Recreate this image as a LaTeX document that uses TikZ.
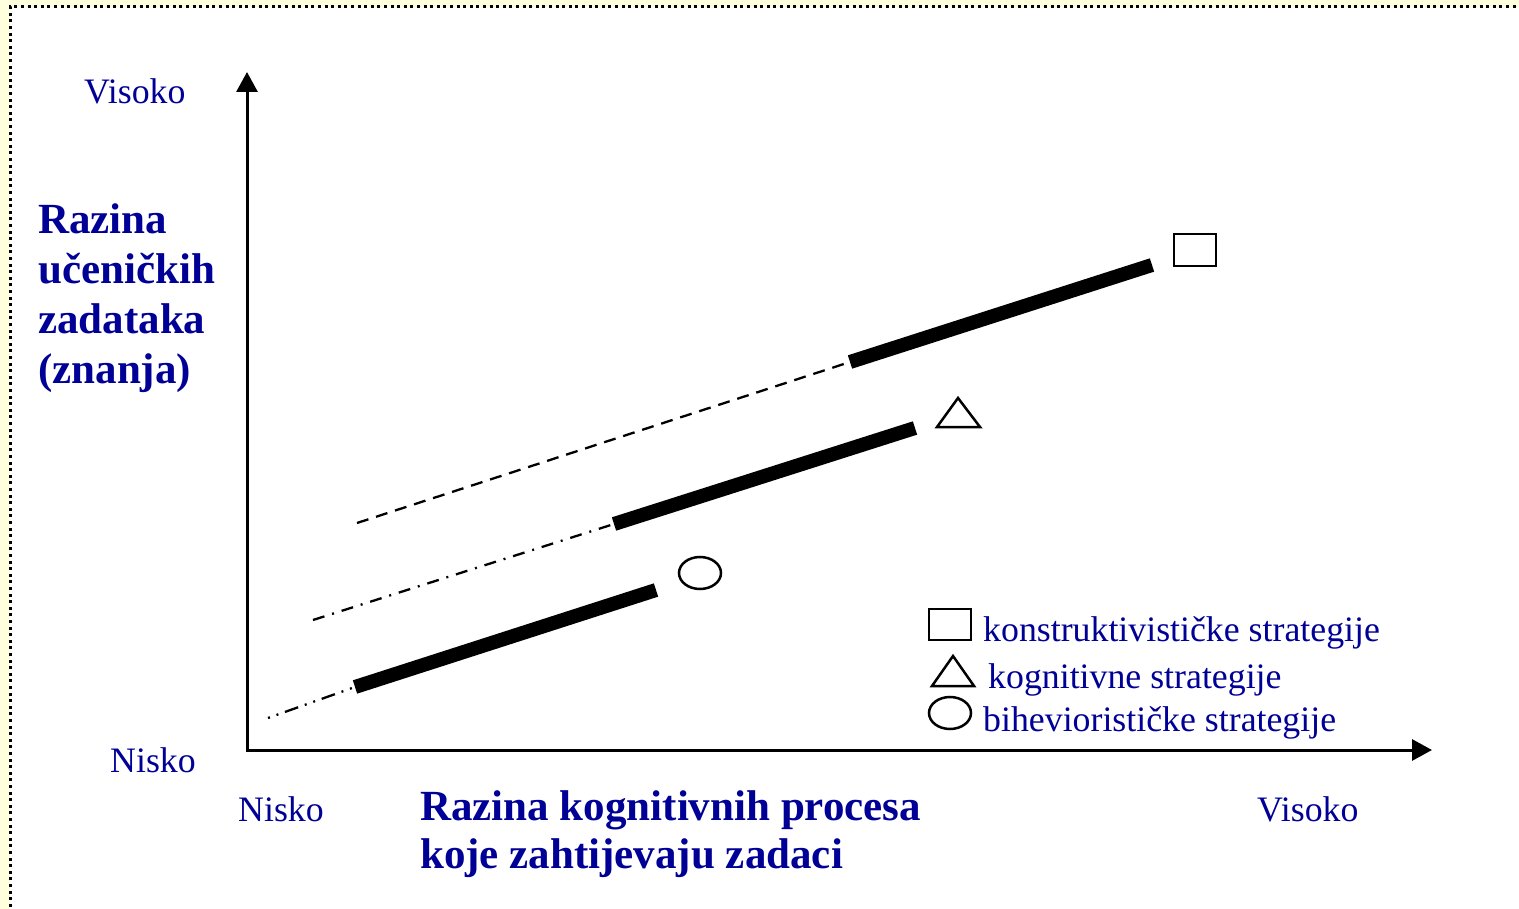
\documentclass[tikz,border=0pt]{standalone}
\usepackage{fontspec}
\setmainfont{Liberation Serif}
\usetikzlibrary{arrows.meta}
\definecolor{txtblue}{RGB}{0,0,150}
\definecolor{bgyellow}{RGB}{255,255,222}
\tikzset{
  lbl/.style={anchor=base west, inner sep=0pt, text=txtblue, font=\fontsize{35.8}{40}\selectfont},
  title/.style={anchor=base west, inner sep=0pt, text=txtblue, font=\fontsize{43}{49}\selectfont\bfseries},
  axis/.style={line width=3pt, {Triangle[length=20pt,width=21pt]}-{Triangle[length=20pt,width=21pt]}},
  thickseg/.style={line width=14pt, line cap=butt},
  thinseg/.style={line width=2.3pt},
  marker/.style={line width=2.5pt},
}
\begin{document}
\begin{tikzpicture}[x=1pt,y=-1pt]
\useasboundingbox (0,0) rectangle (1519,909);
\fill[bgyellow] (0,0) rectangle (1519,909);
\fill[white] (10,7) rectangle (1530,920);
\draw[line width=3pt, dash pattern=on 3pt off 3.6pt] (10,920) -- (10,7) -- (1530,7);

% axes
\coordinate (ytop) at (247,72);
\coordinate (O) at (247,750);
\coordinate (xend) at (1432,750);
\draw[axis] (ytop) -- (O) -- (xend);

% konstruktivisticke
\coordinate (k0) at (357,523);
\coordinate (k1) at (850,362);
\coordinate (k2) at (1152,265);
\draw[thinseg, dash pattern=on 12pt off 8pt] (k0) -- (k1);
\draw[thickseg] (k1) -- (k2);

% kognitivne
\coordinate (g0) at (313,620);
\coordinate (g1) at (614,524);
\coordinate (g2) at (915,428);
\draw[thinseg, dash pattern=on 12pt off 8pt on 2pt off 8pt] (g0) -- (g1);
\draw[thickseg] (g1) -- (g2);

% bihevioristicke
\coordinate (b0) at (268,718);
\coordinate (b1) at (355,687);
\coordinate (b2) at (656,590);
\draw[thinseg, dash pattern=on 2pt off 7pt on 2pt off 7pt on 14pt off 7pt] (b0) -- (b1);
\draw[thickseg] (b1) -- (b2);

% markers
\draw[marker] (1174,234) rectangle (1216,266);
\draw[marker] (958,398) -- (980,427) -- (937,427) -- cycle;
\draw[marker] (700,573) ellipse [x radius=21, y radius=16];

% legend markers
\draw[marker] (929,609) rectangle (971,640);
\draw[marker] (953,656) -- (974,686) -- (932,686) -- cycle;
\draw[marker] (950,713) ellipse [x radius=21, y radius=16];

% legend text
\node[lbl] (lk) at (983,641) {konstruktivističke strategije};
\node[lbl] (lg) at (988,688) {kognitivne strategije};
\node[lbl] (lb) at (983,731) {biheviorističke strategije};

% axis labels
\node[lbl] (yvis) at (84,104) {Visoko};
\node[lbl] (ynis) at (110,772) {Nisko};
\node[lbl] (xnis) at (238,821) {Nisko};
\node[lbl] (xvis) at (1257,821) {Visoko};

\node[title] (t1) at (38,234) {Razina};
\node[title] (t2) at (38,284) {učeničkih};
\node[title] (t3) at (38,334) {zadataka};
\node[title] (t4) at (38,384) {(znanja)};

\node[title] (x1) at (420,820) {Razina kognitivnih procesa};
\node[title] (x2) at (420,868) {koje zahtijevaju zadaci};
\end{tikzpicture}
\end{document}
